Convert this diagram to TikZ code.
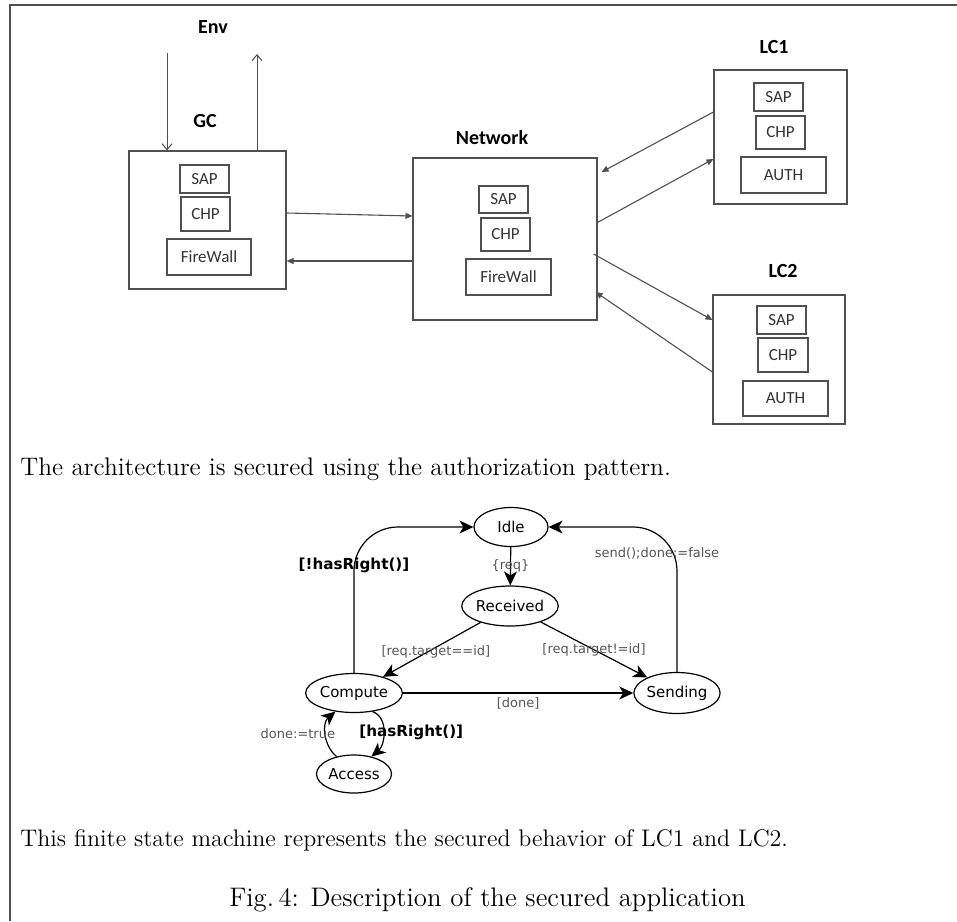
\documentclass[tikz,border=0pt]{standalone}
\usepackage{fontspec}
\usetikzlibrary{arrows.meta,shapes.geometric}
\newfontfamily\cfont{Carlito}
\newfontfamily\dfont{DejaVu Sans}
\definecolor{lgray}{HTML}{505050}
\definecolor{tgray}{HTML}{555555}

\tikzstyle{block}   = [draw=lgray, line width=0.55pt, inner sep=0pt, text=black!80, font=\cfont\fontsize{8.5}{10}\selectfont]
\tikzstyle{title}   = [inner sep=0pt, font=\cfont\bfseries\fontsize{10}{12}\selectfont]
\tikzstyle{link}    = [draw=lgray, line width=0.55pt, -{Triangle[length=3.5pt,width=3pt]}]
\tikzstyle{envlink} = [draw=lgray, line width=0.5pt, -{Straight Barb[length=3pt,width=5pt]}]
\tikzstyle{state}   = [ellipse, draw, line width=0.6pt, inner sep=0pt, font=\dfont\fontsize{7.5}{9}\selectfont]
\tikzstyle{trans}   = [draw, line width=0.6pt, -{Stealth[length=7pt,width=6.5pt,inset=2pt]}]
\tikzstyle{guard}   = [text=tgray, inner sep=1pt, font=\dfont\fontsize{6.5}{8}\selectfont]
\tikzstyle{bguard}  = [inner sep=1pt, font=\dfont\bfseries\fontsize{7.6}{9}\selectfont]
\tikzstyle{body}    = [inner sep=0pt]

\begin{document}
\begin{tikzpicture}[x=0.5pt, y=-0.5pt]
  \useasboundingbox (0,0) rectangle (957,921);
  % frame
  \draw[line width=1pt, lgray] (957,4.5) -- (10,4.5) -- (10,921);

  % architecture
  \node[title] (env) at (213,27) {Env};
  \node[title] (gclab) at (205,121) {GC};
  \node[title] (netlab) at (492,138) {Network};
  \node[title] (lc1lab) at (774,47) {LC1};
  \node[title] (lc2lab) at (783,271) {LC2};

  \node[block, minimum width=78.5pt, minimum height=69pt] (gc) at (207.5,220) {};
  \node[block, minimum width=24.5pt, minimum height=14pt] (gcsap) at (204.5,179) {SAP};
  \node[block, minimum width=24.5pt, minimum height=17pt] (gcchp) at (205.5,214) {CHP};
  \node[block, minimum width=42pt, minimum height=18pt] (gcfw) at (209,257) {FireWall};

  \node[block, minimum width=92pt, minimum height=81pt] (net) at (505,239) {};
  \node[block, minimum width=24.5pt, minimum height=13.5pt] (netsap) at (503.5,199.5) {SAP};
  \node[block, minimum width=24.5pt, minimum height=16.5pt] (netchp) at (505.5,234.5) {CHP};
  \node[block, minimum width=42.5pt, minimum height=18pt] (netfw) at (508.5,277) {FireWall};

  \node[block, minimum width=66.5pt, minimum height=67pt] (lc1) at (780.5,137) {};
  \node[block, minimum width=24.5pt, minimum height=14pt] (lc1sap) at (778.5,97) {SAP};
  \node[block, minimum width=24.5pt, minimum height=16.5pt] (lc1chp) at (780.5,132.5) {CHP};
  \node[block, minimum width=42.5pt, minimum height=18pt] (lc1auth) at (783.5,175) {AUTH};

  \node[block, minimum width=66pt, minimum height=64.5pt] (lc2) at (779,359.5) {};
  \node[block, minimum width=24.5pt, minimum height=14pt] (lc2sap) at (781.5,320) {SAP};
  \node[block, minimum width=25pt, minimum height=17pt] (lc2chp) at (783,355) {CHP};
  \node[block, minimum width=42.5pt, minimum height=17.5pt] (lc2auth) at (785.5,398.5) {AUTH};

  \coordinate (envin) at (167,53);
  \coordinate (envout) at (257,54);
  \draw[envlink] (envin) -- (envin |- gc.north);
  \draw[envlink] (envout |- gc.north) -- (envout);

  \draw[link] ([yshift=3.5pt]gc.east) -- ([yshift=11.5pt]net.west);
  \draw[link] ([yshift=-11pt]net.west) -- ([yshift=-20.5pt]gc.east);
  \draw[link] ([yshift=12.5pt]lc1.west) -- ([xshift=2pt,yshift=33.5pt]net.east);
  \draw[link] ([xshift=-0.5pt,yshift=8pt]net.east) -- ([yshift=-11pt]lc1.west);
  \draw[link] ([xshift=-2pt,yshift=-7.5pt]net.east) -- ([yshift=19.75pt]lc2.west);
  \draw[link] ([yshift=-6.25pt]lc2.west) -- ([xshift=-1pt,yshift=-26.5pt]net.east);

  \node[body, anchor=west, font=\fontsize{12.7}{15}\selectfont] (archtext) at (20,469) {The architecture is secured using the authorization pattern.};

  % state machine
  \node[state, minimum width=37pt, minimum height=19.5pt] (idle) at (511,527) {Idle};
  \node[state, minimum width=42pt, minimum height=20pt] (received) at (510,606) {Received};
  \node[state, minimum width=37pt, minimum height=19.5pt] (compute) at (354,693) {Compute};
  \node[state, minimum width=37.5pt, minimum height=20.5pt] (sending) at (677,693) {Sending};
  \node[state, minimum width=37.5pt, minimum height=19pt] (access) at (354,774) {Access};

  \draw[trans] (idle) -- node[guard] (lreq) {\{req\}} (received);
  \draw[trans] (received) -- node[guard, pos=0.55, xshift=4.5pt] (lsame) {[req.target==id]} (compute);
  \draw[trans] (received) -- node[guard, pos=0.5] (ldiff) {[req.target!=id]} (sending);
  \draw[trans] (compute) -- node[guard, below, yshift=-1pt] (ldone) {[done]} (sending);
  \draw[trans, rounded corners=22pt] (compute.north) |- node[bguard, pos=0.37] (lnoright) {[!hasRight()]} (idle.west);
  \draw[trans, rounded corners=22pt] (sending.north) |- node[guard, pos=0.41, xshift=-10pt] (lsend) {send();done:=false} (idle.east);
  \draw[trans] (compute.-45) to[out=-20, in=40] node[bguard, pos=0.5, xshift=14pt] (lright) {[hasRight()]} (access.45);
  \draw[trans] (access.135) to[out=140, in=220] node[guard, pos=0.5, xshift=-14pt] (ltrue) {done:=true} (compute.225);

  \node[body, anchor=west, font=\fontsize{12}{14}\selectfont] (fsmtext) at (20,840) {This finite state machine represents the secured behavior of LC1 and LC2.};
  \node[body, font=\fontsize{13.4}{16}\selectfont] (caption) at (487.5,900) {Fig.\,4: Description of the secured application};
\end{tikzpicture}
\end{document}
